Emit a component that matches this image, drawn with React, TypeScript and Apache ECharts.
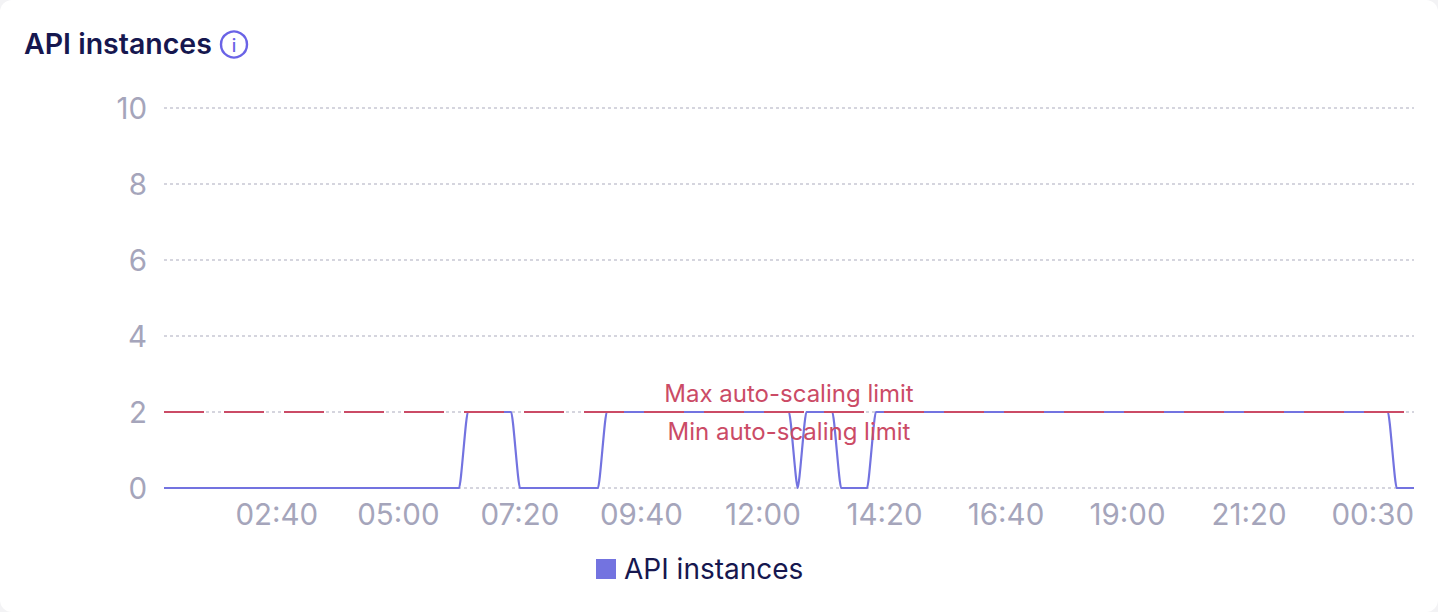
import React, { useEffect, useRef } from "react";
import * as echarts from "echarts";

const startMinutes = 30;
const stepMinutes = 10;
const pointCount = 145;
const times: string[] = Array.from({ length: pointCount }, (_, i) => {
  const m = (startMinutes + i * stepMinutes) % 1440;
  return `${String(Math.floor(m / 60)).padStart(2, "0")}:${String(m % 60).padStart(2, "0")}`;
});
const shownTicks = ["02:40", "05:00", "07:20", "09:40", "12:00", "14:20", "16:40", "19:00", "21:20", "00:30"];
const shownIndexes = [13, 27, 41, 55, 69, 83, 97, 111, 125, 144];
// Runs of [value, count]
const runs: [number, number][] = [
  [0, 35], [2, 6], [0, 10], [2, 22], [0, 1], [2, 4], [0, 4], [2, 60], [0, 3],
];
const instances: number[] = runs.flatMap(([v, n]) => Array(n).fill(v));
const limitValue = 2;
const yTicks = [0, 2, 4, 6, 8, 10];

export default function App() {
  const ref = useRef<HTMLDivElement>(null);
  useEffect(() => {
    document.body.style.margin = "0";
    const chart = echarts.init(ref.current!, undefined, { renderer: "svg" });
    const font = "Inter";
    chart.setOption({
      animation: false,
      backgroundColor: "transparent",
      textStyle: { fontFamily: font },
      title: {
        text: "API instances",
        left: 19,
        top: 24,
        textStyle: { fontFamily: font, fontSize: 28.5, fontWeight: 600, color: "#16174f" },
      },
      graphic: [
        { type: "circle", shape: { cx: 234, cy: 44.5, r: 13 }, style: { fill: "none", stroke: "#6a63e6", lineWidth: 2.4 } },
        {
          type: "text", x: 234, y: 45,
          style: { text: "i", fontFamily: font, fontSize: 18, fontWeight: 500, fill: "#6a63e6", align: "center", verticalAlign: "middle" },
        },
      ],
      grid: { left: 164, right: 24, top: 108, height: 380 },
      legend: {
        top: 550,
        left: 591,
        icon: "rect",
        itemWidth: 20,
        itemHeight: 20,
        data: ["API instances"],
        textStyle: { fontFamily: font, fontSize: 28, color: "#16174f", padding: [0, 0, 0, 3] },
      },
      xAxis: {
        type: "category",
        boundaryGap: false,
        data: times,
        axisLine: { show: false },
        axisTick: { show: false },
        axisLabel: {
          interval: (i: number, v: string) => shownIndexes.includes(i) && shownTicks.includes(v),
          showMaxLabel: true,
          alignMaxLabel: "right",
          hideOverlap: false,
          margin: 11,
          fontFamily: font,
          fontSize: 29.5,
          color: "#a5a5bb",
        },
      },
      yAxis: {
        type: "value",
        min: yTicks[0],
        max: yTicks[yTicks.length - 1],
        interval: 2,
        axisLabel: { margin: 17, fontFamily: font, fontSize: 29.5, color: "#a5a5bb" },
        axisLine: { show: false },
        axisTick: { show: false },
        splitLine: { lineStyle: { type: [3, 3], color: "#c8c8d4", width: 1.5 } },
      },
      series: [
        {
          name: "API instances",
          type: "line",
          data: instances,
          showSymbol: false,
          smooth: 0.2,
          smoothMonotone: "x",
          itemStyle: { color: "#7373e0" },
          lineStyle: { color: "#7373e0", width: 2.2 },
          markLine: {
            silent: true,
            symbol: "none",
            lineStyle: { type: [40, 20], color: "#cb4b66", width: 2 },
            label: { fontFamily: font, fontSize: 24, color: "#cb4b66", distance: 7 },
            data: [
              { yAxis: limitValue, label: { formatter: "Max auto-scaling limit", position: "insideMiddleTop" } },
              { yAxis: limitValue, label: { formatter: "Min auto-scaling limit", position: "insideMiddleBottom" } },
            ],
          },
        },
      ],
    });
    return () => chart.dispose();
  }, []);
  return (
    <div style={{ width: 1438, height: 612, background: "#f3f3f5" }}>
      <div ref={ref} style={{ width: 1438, height: 612, background: "#ffffff", borderRadius: 12 }} />
    </div>
  );
}
